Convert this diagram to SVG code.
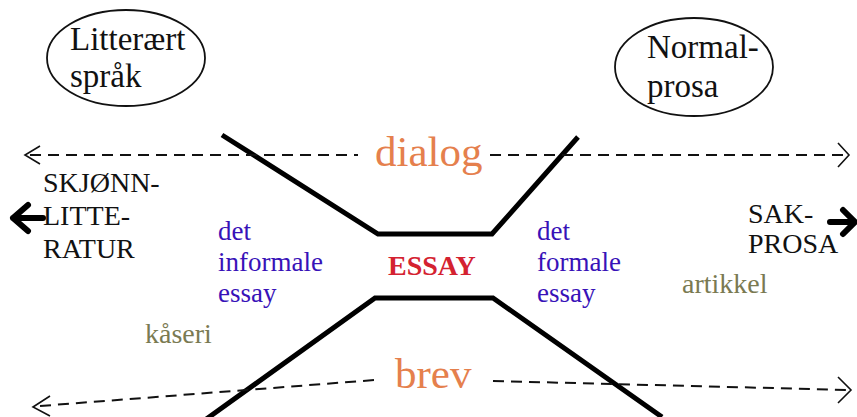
<svg xmlns="http://www.w3.org/2000/svg" width="857" height="417" viewBox="0 0 857 417">
<style>
text{font-family:"Liberation Serif","Times New Roman",serif;}
.blk{fill:#111;font-size:28px;}
.ell{fill:#111;font-size:33px;}
.big{fill:#E5804D;font-size:43px;}
.blue{fill:#3812B8;font-size:27px;}
.olive{fill:#7A7A52;font-size:28px;}
.red{fill:#D42230;font-size:28px;font-weight:bold;}
.dash{fill:none;stroke:#111;stroke-width:2;stroke-dasharray:11 7;}
.head{fill:none;stroke:#111;stroke-width:1.6;}
.thick{fill:none;stroke:#000;stroke-width:5;stroke-linejoin:miter;}
.bold{fill:none;stroke:#000;stroke-width:6;stroke-linecap:round;stroke-linejoin:round;}
</style>
<rect width="857" height="417" fill="#fff"/>
<g id="litterart">
<ellipse cx="126" cy="58" rx="79" ry="48" fill="none" stroke="#111" stroke-width="1.8"/>
<text class="ell" x="70" y="50">Litterært</text>
<text class="ell" x="70" y="87">språk</text>
</g>
<g id="normalprosa">
<ellipse cx="694" cy="67" rx="79" ry="49" fill="none" stroke="#111" stroke-width="1.8"/>
<text class="ell" x="647" y="58">Normal-</text>
<text class="ell" x="647" y="97">prosa</text>
</g>
<g id="connectors">
<path class="thick" d="M222,135 L378,234 L492,234 L578,137"/>
<path class="thick" d="M205,420 L375,298 L493,298 L662,417"/>
<path class="dash" d="M30,155 L358,155"/>
<path class="head" d="M40,146 L25,155 L40,164"/>
<path class="dash" d="M490,155 L846,155"/>
<path class="head" d="M838,143 L849,155 L838,167"/>
<path class="dash" d="M40,406 L375,380"/>
<path class="head" d="M50,396 L33,407 L50,416"/>
<path class="dash" d="M493,381 L849,390"/>
<path class="head" d="M838,377 L851,390 L838,403"/>
<path class="bold" d="M43,218 L13,218 M28,205 L13,218 L28,231"/>
<path class="bold" d="M830,222 L855,222 M843,210 L855,222 L843,234"/>
</g>
<g id="dialog"><text class="big" x="375" y="166">dialog</text></g>
<g id="brev"><text class="big" x="395" y="388">brev</text></g>
<g id="skjonnlitteratur">
<text class="blk" x="43" y="192">SKJØNN-</text>
<text class="blk" x="43" y="225">LITTE-</text>
<text class="blk" x="43" y="258">RATUR</text>
</g>
<g id="sakprosa">
<text class="blk" x="748" y="223">SAK-</text>
<text class="blk" x="748" y="253">PROSA</text>
</g>
<g id="informale">
<text class="blue" x="218" y="240">det</text>
<text class="blue" x="218" y="271">informale</text>
<text class="blue" x="218" y="302">essay</text>
</g>
<g id="essay"><text class="red" x="388" y="275">ESSAY</text></g>
<g id="formale">
<text class="blue" x="537" y="240">det</text>
<text class="blue" x="537" y="271">formale</text>
<text class="blue" x="537" y="302">essay</text>
</g>
<g id="artikkel"><text class="olive" x="682" y="293">artikkel</text></g>
<g id="kaseri"><text class="olive" x="145" y="343">kåseri</text></g>
</svg>
